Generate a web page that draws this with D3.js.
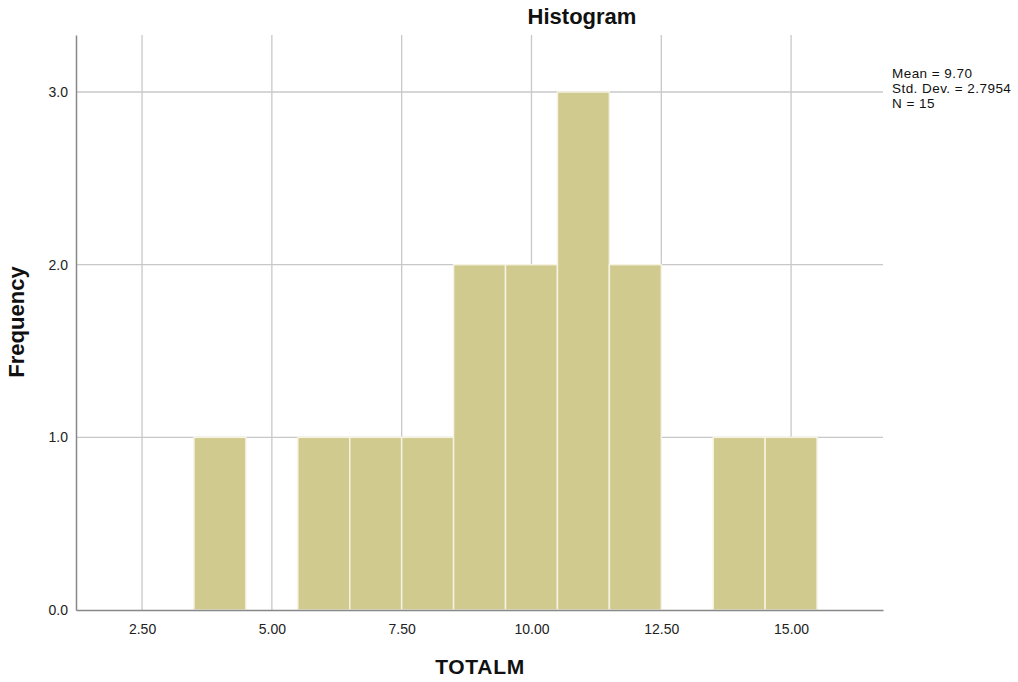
<!DOCTYPE html>
<html><head><meta charset="utf-8">
<script src="https://cdn.jsdelivr.net/npm/d3@7"></script>
<style>body{margin:0;background:#fff}svg{display:block}text{font-family:Arial,"Liberation Sans",sans-serif}</style>
</head><body>
<script>
const binCenters = [4, 6, 7, 8, 9, 10, 11, 12, 14, 15];
const frequencies = [1, 1, 1, 1, 2, 2, 3, 2, 1, 1];
const binWidth = 1;
const xTicks = [2.5, 5, 7.5, 10, 12.5, 15];
const yTicks = [0, 1, 2, 3];
const statsLines = ["Mean = 9.70", "Std. Dev. = 2.7954", "N = 15"];
const title = "Histogram", xTitle = "TOTALM", yTitle = "Frequency";

const W = 1018, H = 682;
const L = 76, R = 883, T = 35, B = 610;
const svg = d3.select("body").append("svg").attr("width", W).attr("height", H);
const x = d3.scaleLinear().domain([1.228, 16.77]).range([L, R]);
const y = d3.scaleLinear().domain([0, 3.33]).range([B, T]);

// gridlines
svg.append("g").selectAll("line").data(xTicks).join("line")
  .attr("x1", d => x(d)).attr("x2", d => x(d)).attr("y1", T).attr("y2", B)
  .attr("stroke", "#c8c8c8").attr("stroke-width", 1.3);
svg.append("g").selectAll("line").data(yTicks.slice(1)).join("line")
  .attr("x1", L).attr("x2", R).attr("y1", d => y(d)).attr("y2", d => y(d))
  .attr("stroke", "#c8c8c8").attr("stroke-width", 1.3);

// bars
svg.append("g").selectAll("rect").data(binCenters).join("rect")
  .attr("x", d => x(d - binWidth / 2))
  .attr("width", d => x(d + binWidth / 2) - x(d - binWidth / 2))
  .attr("y", (d, i) => y(frequencies[i]))
  .attr("height", (d, i) => B - y(frequencies[i]))
  .attr("fill", "#d0ca8e").attr("stroke", "#f6f3e2").attr("stroke-width", 1.5);

// axes
const xAxis = d3.axisBottom(x).tickValues(xTicks).tickFormat(d3.format(".2f")).tickSize(0).tickPadding(14);
const gx = svg.append("g").attr("transform", `translate(0,${B})`).call(xAxis);
gx.select(".domain").attr("stroke", "#888").attr("stroke-width", 1.5);
gx.selectAll("text").attr("font-size", 14).attr("fill", "#222");
const yAxis = d3.axisLeft(y).tickValues(yTicks).tickFormat(d3.format(".1f")).tickSize(0).tickPadding(8);
const gy = svg.append("g").attr("transform", `translate(${L},0)`).call(yAxis);
gy.select(".domain").attr("stroke", "#888").attr("stroke-width", 1.5);
gy.selectAll("text").attr("font-size", 14).attr("fill", "#222");

// titles
svg.append("text").attr("x", 582).attr("y", 24).attr("text-anchor", "middle")
  .attr("font-size", 22).attr("font-weight", "bold").attr("fill", "#111").text(title);
svg.append("text").attr("x", 480).attr("y", 674).attr("text-anchor", "middle")
  .attr("font-size", 21).attr("letter-spacing", 0.7).attr("font-weight", "bold").attr("fill", "#111").text(xTitle);
svg.append("text").attr("transform", "translate(24,322) rotate(-90)").attr("text-anchor", "middle")
  .attr("font-size", 22).attr("font-weight", "bold").attr("fill", "#111").text(yTitle);

// stats
svg.append("g").selectAll("text").data(statsLines).join("text")
  .attr("x", 892).attr("y", (d, i) => 78 + i * 15)
  .attr("font-size", 13.5).attr("letter-spacing", 0.45).attr("fill", "#111").text(d => d);
</script>
</body></html>
